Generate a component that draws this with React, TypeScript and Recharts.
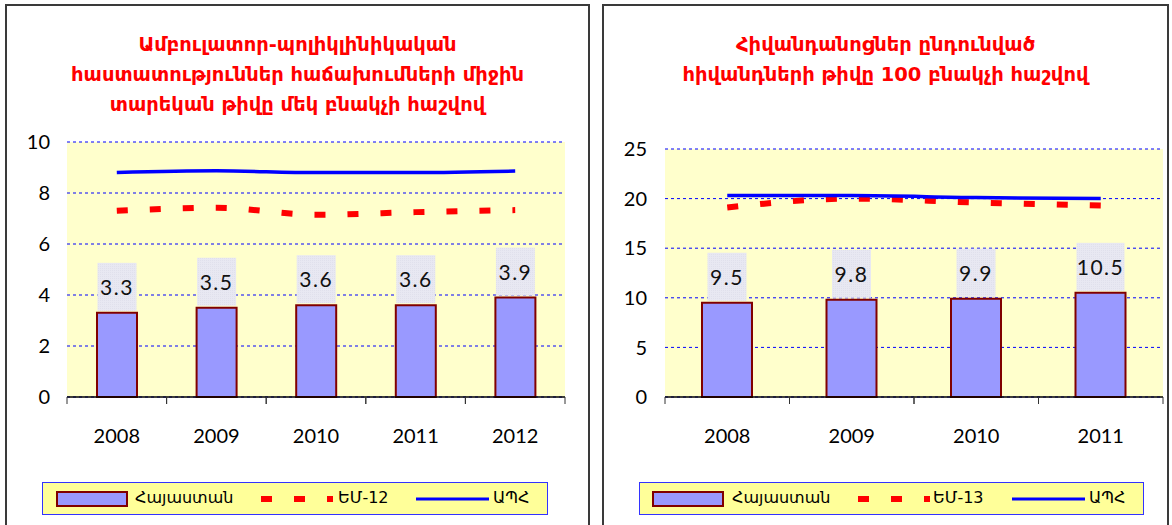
import { ComposedChart, Bar, Line, XAxis, YAxis, CartesianGrid, LabelList, Legend } from 'recharts';

const years1 = ['2008', '2009', '2010', '2011', '2012'];
const armenia1 = [3.3, 3.5, 3.6, 3.6, 3.9];
const eu12 = [7.3, 7.42, 7.15, 7.25, 7.33];
const cis1 = [8.8, 8.87, 8.8, 8.8, 8.86];
const ticks1 = [0, 2, 4, 6, 8, 10];

const years2 = ['2008', '2009', '2010', '2011'];
const armenia2 = [9.5, 9.8, 9.9, 10.5];
const eu13 = [19.1, 20.0, 19.6, 19.3];
const cis2 = [20.3, 20.3, 20.1, 20.0];
const ticks2 = [0, 5, 10, 15, 20, 25];

const title1 = [
  'Ամբուլատոր-պոլիկլինիկական',
  'հաստատություններ հաճախումների միջին',
  'տարեկան թիվը մեկ բնակչի հաշվով',
];
const title2 = ['Հիվանդանոցներ ընդունված', 'հիվանդների թիվը 100 բնակչի հաշվով'];

const FONT = '"DejaVu Sans", sans-serif';
const NUM = 'Lato, "DejaVu Sans", sans-serif';

const data1 = years1.map((year, i) => ({ year, arm: armenia1[i], eu: eu12[i], cis: cis1[i] }));
const data2 = years2.map((year, i) => ({ year, arm: armenia2[i], eu: eu13[i], cis: cis2[i] }));

const XTick = (props: any) => {
  const { x, y, payload } = props;
  const half = payload.offset ?? 0;
  return (
    <g>
      <line x1={x - half} x2={x - half} y1={y} y2={y + 7} stroke="#333" strokeWidth={1} />
      <line x1={x + half} x2={x + half} y1={y} y2={y + 7} stroke="#333" strokeWidth={1} />
      <text x={x} y={y + 46} textAnchor="middle" fontSize={20} fontFamily={NUM} fill="#000">
        {payload.value}
      </text>
    </g>
  );
};

const makeLabel = (patternId: string) => (props: any) => {
  const { x, y, width, value } = props;
  const text = Number(value).toFixed(1);
  const w = text.length * 9 + 12;
  const cx = x + width / 2;
  const bottom = y - 2;
  return (
    <g>
      <rect x={cx - w / 2} y={bottom - 48} width={w} height={48} fill={`url(#${patternId})`} />
      <text
        x={cx}
        y={bottom - 16}
        textAnchor="middle"
        fontSize={21}
        letterSpacing={1.5}
        fontFamily={NUM}
        fill="#111"
      >
        {text}
      </text>
    </g>
  );
};

const LegendBox = ({ euLabel, x1, x2, x3, x4, x5, x6 }: any) => (
  <div
    style={{
      width: '100%',
      height: 33,
      boxSizing: 'border-box',
      background: '#FFFF99',
      border: '1px solid #3333FF',
      position: 'relative',
      fontFamily: FONT,
      fontSize: 16,
      color: '#000',
    }}
  >
    <svg width="100%" height="31" style={{ position: 'absolute', left: 0, top: 0 }}>
      <rect x={x1} y={9} width={70} height={14} fill="#9999FF" stroke="#800000" strokeWidth={2} />
      <line x1={x3} x2={x3 + 72} y1={16} y2={16} stroke="#FF0000" strokeWidth={6} strokeDasharray="11 22" />
      <line x1={x5} x2={x5 + 73} y1={16} y2={16} stroke="#0000FF" strokeWidth={3} />
    </svg>
    <span style={{ position: 'absolute', left: x2, top: 5 }}>Հայաստան</span>
    <span style={{ position: 'absolute', left: x4, top: 5 }}>{euLabel}</span>
    <span style={{ position: 'absolute', left: x6, top: 5 }}>ԱՊՀ</span>
  </div>
);

const Panel = ({ left, width, lines }: any) => (
  <div
    style={{
      position: 'absolute',
      left,
      top: 4,
      width,
      height: 540,
      boxSizing: 'border-box',
      border: '2px solid #3a3a3a',
    }}
  >
    <div
      style={{
        marginTop: 24,
        textAlign: 'center',
        color: '#FF0000',
        fontWeight: 'bold',
        fontFamily: FONT,
        fontSize: 19.5,
        lineHeight: '30px',
      }}
    >
      {lines.map((l: string) => (
        <div key={l}>{l}</div>
      ))}
    </div>
  </div>
);

const pattern = (id: string) => (
  <defs>
    <pattern id={id} width={2} height={2} patternUnits="userSpaceOnUse">
      <rect width={2} height={2} fill="#E8E8F2" />
      <rect width={1} height={1} fill="#E0E0EC" />
    </pattern>
  </defs>
);

export default function App() {
  return (
    <div style={{ position: 'absolute', left: 0, top: 0, width: 1172, height: 525, overflow: 'hidden', background: '#fff' }}>
      <Panel left={5} width={585} lines={title1} />
      <Panel left={602} width={567} lines={title2} />

      <div style={{ position: 'absolute', left: 0, top: 0 }}>
        <ComposedChart width={590} height={525} data={data1} margin={{ top: 142, right: 25, left: 0, bottom: 98 }}>
          {pattern('hatch1')}
          <CartesianGrid vertical={false} stroke="#0000FF" strokeDasharray="3 3" fill="#FFFFCC" />
          <XAxis
            dataKey="year"
            height={30}
            tickSize={0}
            tickMargin={0}
            tick={<XTick />}
            axisLine={{ stroke: '#000', strokeWidth: 1.5 }}
            tickLine={false}
          />
          <YAxis
            width={67}
            domain={[0, 10]}
            ticks={ticks1}
            axisLine={false}
            tickLine={false}
            tickMargin={11}
            tick={{ fill: '#000', fontSize: 20, fontFamily: NUM }}
          />
          <Bar dataKey="arm" barSize={40} fill="#9999FF" stroke="#800000" strokeWidth={2} isAnimationActive={false}>
            <LabelList dataKey="arm" content={makeLabel('hatch1')} />
          </Bar>
          <Line type="monotone" dataKey="eu" stroke="#FF0000" strokeWidth={6} strokeDasharray="11 22" dot={false} isAnimationActive={false} />
          <Line type="monotone" dataKey="cis" stroke="#0000FF" strokeWidth={3.5} dot={false} isAnimationActive={false} />
          <Legend
            layout="horizontal"
            verticalAlign="middle"
            align="center"
            wrapperStyle={{ left: 42, top: 482, width: 506, height: 33 }}
            content={() => <LegendBox euLabel="ԵՄ-12" x1={14} x2={92} x3={218} x4={295} x5={373} x6={450} />}
          />
        </ComposedChart>
      </div>

      <div style={{ position: 'absolute', left: 595, top: 0 }}>
        <ComposedChart width={577} height={525} data={data2} margin={{ top: 149, right: 9, left: 0, bottom: 98 }}>
          {pattern('hatch2')}
          <CartesianGrid vertical={false} stroke="#0000FF" strokeDasharray="3 3" fill="#FFFFCC" />
          <XAxis
            dataKey="year"
            height={30}
            tickSize={0}
            tickMargin={0}
            tick={<XTick />}
            axisLine={{ stroke: '#000', strokeWidth: 1.5 }}
            tickLine={false}
          />
          <YAxis
            width={70}
            domain={[0, 25]}
            ticks={ticks2}
            axisLine={false}
            tickLine={false}
            tickMargin={12}
            tick={{ fill: '#000', fontSize: 20, fontFamily: NUM }}
          />
          <Bar dataKey="arm" barSize={50} fill="#9999FF" stroke="#800000" strokeWidth={2} isAnimationActive={false}>
            <LabelList dataKey="arm" content={makeLabel('hatch2')} />
          </Bar>
          <Line type="monotone" dataKey="eu" stroke="#FF0000" strokeWidth={6} strokeDasharray="11 22" dot={false} isAnimationActive={false} />
          <Line type="monotone" dataKey="cis" stroke="#0000FF" strokeWidth={3.5} dot={false} isAnimationActive={false} />
          <Legend
            layout="horizontal"
            verticalAlign="middle"
            align="center"
            wrapperStyle={{ left: 44, top: 482, width: 505, height: 33 }}
            content={() => <LegendBox euLabel="ԵՄ-13" x1={13} x2={92} x3={218} x4={293} x5={372} x6={449} />}
          />
        </ComposedChart>
      </div>
    </div>
  );
}
